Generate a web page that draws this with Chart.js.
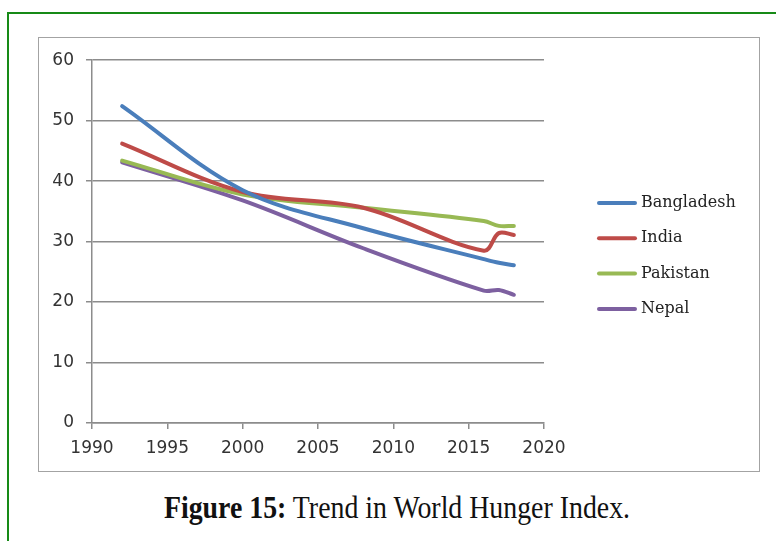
<!DOCTYPE html>
<html>
<head>
<meta charset="utf-8">
<script src="https://cdn.jsdelivr.net/npm/chart.js@4.4.1/dist/chart.umd.min.js"></script>
<style>
  html, body { margin: 0; padding: 0; background: #fff; }
  body { width: 776px; height: 541px; position: relative; overflow: hidden; }
  #frame {
    position: absolute; left: 7px; top: 12px; width: 800px; height: 560px;
    border-left: 2px solid #178a17; border-top: 2px solid #178a17;
  }
  #box {
    position: absolute; left: 38px; top: 37px; width: 720px; height: 433px;
    border: 1px solid #a3a3a3;
  }
  #caption {
    position: absolute; left: 9px; width: 776px; top: 489px; text-align: center;
    font-family: "Liberation Serif", "DejaVu Serif", serif; font-size: 32px; color: #111;
    transform: scaleX(0.87); transform-origin: 388px 0;
  }
</style>
</head>
<body>
<div id="frame"></div>
<div id="box"><canvas id="hungerChart"></canvas></div>
<div id="caption"><b>Figure 15:</b> Trend in World Hunger Index.</div>

<script>
// GHI scores by report year
const years = [1992, 2000, 2008, 2016, 2017, 2018];
const countries = ["Bangladesh", "India", "Pakistan", "Nepal"];
const bangladesh = [52.4, 38.5, 32.2, 27.1, 26.5, 26.1];
const india = [46.2, 38.2, 35.6, 28.5, 31.4, 31.1];
const pakistan = [43.4, 37.8, 35.6, 33.4, 32.6, 32.6];
const nepal = [43.1, 36.8, 28.9, 21.9, 22.0, 21.2];

const colors = ["#4a7ebb", "#be4b48", "#98b954", "#7d60a0"];

function toPoints(values) {
    return values.map((v, i) => ({ x: years[i], y: v }));
}

const series = [bangladesh, india, pakistan, nepal];

// legend drawn at the right of the plot, short line + serif label
const sideLegend = {
    id: "sideLegend",
    afterDraw(chart) {
        const ctx = chart.ctx;
        const x0 = 558, rowTop = 165, rowGap = 35.3;
        ctx.save();
        ctx.font = "16px 'DejaVu Serif'";
        ctx.textBaseline = "middle";
        chart.data.datasets.forEach((ds, i) => {
            const y = rowTop + i * rowGap;
            ctx.strokeStyle = ds.borderColor;
            ctx.lineWidth = 4;
            ctx.lineCap = "round";
            ctx.beginPath();
            ctx.moveTo(x0 + 2, y);
            ctx.lineTo(x0 + 38, y);
            ctx.stroke();
            ctx.fillStyle = "#222";
            ctx.fillText(ds.label, x0 + 44, y);
        });
        ctx.restore();
    }
};

new Chart(document.getElementById("hungerChart"), {
    type: "line",
    data: {
        datasets: countries.map((name, i) => ({
            label: name,
            data: toPoints(series[i]),
            borderColor: colors[i],
            backgroundColor: colors[i],
            borderWidth: 4,
            pointRadius: 0,
            tension: 0.35,
            borderCapStyle: "round"
        }))
    },
    options: {
        responsive: true,
        maintainAspectRatio: false,
        animation: false,
        layout: { padding: { left: 0, top: 20, right: 215, bottom: 0 } },
        plugins: {
            legend: { display: false },
            tooltip: { enabled: false }
        },
        scales: {
            x: {
                type: "linear",
                min: 1990,
                max: 2020,
                ticks: {
                    stepSize: 5,
                    padding: 9,
                    color: "#333",
                    font: { family: "DejaVu Sans", size: 17 },
                    callback: v => String(v)
                },
                grid: { drawOnChartArea: false, drawTicks: true, tickLength: 6, color: "#8c8c8c", lineWidth: 1.5 },
                border: { color: "#8c8c8c", width: 1.5 },
                afterFit: s => { s.height = 48; }
            },
            y: {
                min: 0,
                max: 60,
                ticks: {
                    stepSize: 10,
                    padding: 12,
                    color: "#333",
                    font: { family: "DejaVu Sans", size: 17 }
                },
                grid: { color: "#8c8c8c", lineWidth: 1.5, tickLength: 6 },
                border: { color: "#8c8c8c", width: 1.5 },
                afterFit: s => { s.width = 53; }
            }
        }
    },
    plugins: [sideLegend]
});
</script>
</body>
</html>
